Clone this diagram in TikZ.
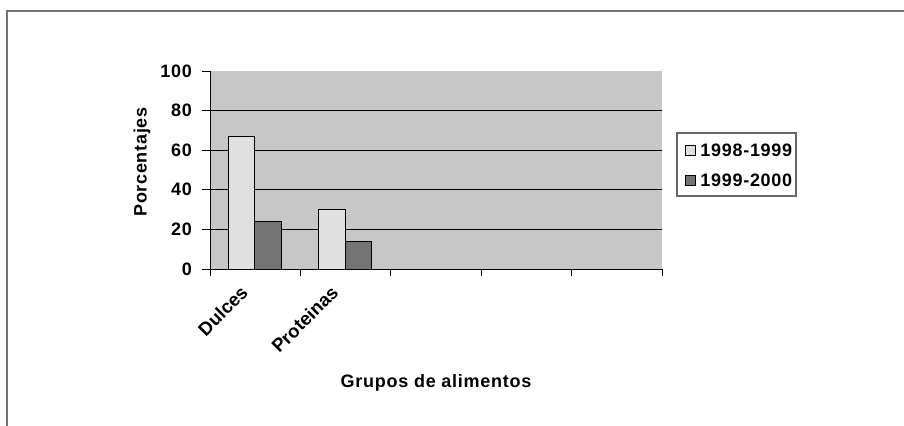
\documentclass[tikz,border=0pt]{standalone}
\usepackage{fontspec}
\setmainfont{Liberation Sans}[LetterSpace=4]
\newfontfamily\rotfont{Liberation Sans}
\begin{document}
\begin{tikzpicture}[x=0.5pt,y=0.5pt,font=\bfseries\fontsize{9}{11}\selectfont]
      \useasboundingbox (0,0) rectangle (904,426);
      \draw[black!55,line width=1pt] (6.5,0) -- (6.5,415) -- (904,415);

      \coordinate (origen) at (210,157);
      \fill[black!22] (origen) rectangle (662,355);

      %%%%%%%%%%%%%%%%%%%%%%%%%%%%%%%%%%%%%%%%%%%%%%%%%%%%%%%%%%%%%%%%%%%%%%%%%%%
      %%%%  Rejilla y eje Y
      \foreach \v in {20,40,60,80}
       {\draw[line width=0.6pt] (210,{157+1.98*\v}) -- (662,{157+1.98*\v});};

      \foreach \v in {0,20,40,60,80,100}
       {\draw (202,{157+1.98*\v}) -- (210,{157+1.98*\v});
        \node[anchor=east] (y\v) at (199,{157+1.98*\v}) {\v};};

      %%%%%%%%%%%%%%%%%%%%%%%%%%%%%%%%%%%%%%%%%%%%%%%%%%%%%%%%%%%%%%%%%%%%%%%%%%%
      %%%%  Barras
      \foreach \i/\a/\b/\nombre in {0/67/24/Dulces,1/30/14/Proteinas}
       {\pgfmathsetmacro\xc{210 + 90.4*\i}
        \draw[fill=black!12] ({\xc+18},157) rectangle ({\xc+44.5},{157+1.98*\a});
        \draw[fill=black!55] ({\xc+44.5},157) rectangle ({\xc+71},{157+1.98*\b});
        \node[rotate=45,anchor=base east,font=\rotfont\bfseries\fontsize{9.3}{11}\selectfont]
          (cat\i) at ({\xc+44},137) {\nombre};};

      \foreach \i in {0,...,5}
       {\draw ({210+90.4*\i},157) -- ({210+90.4*\i},150);};
      \draw (210,355) -- (origen) -- (662,157);

      %%%%%%%%%%%%%%%%%%%%%%%%%%%%%%%%%%%%%%%%%%%%%%%%%%%%%%%%%%%%%%%%%%%%%%%%%%%
      %%%%  Leyenda
      \draw[black!60,line width=0.8pt] (677,230) rectangle (796,293);
      \draw[fill=black!12] (685,271) rectangle (695,281);
      \node[anchor=west,inner sep=1pt] (ley1) at (698,276) {1998-1999};
      \draw[fill=black!55] (685,241) rectangle (695,251);
      \node[anchor=west,inner sep=1pt] (ley2) at (698,246) {1999-2000};

      \node[rotate=90] (ytitulo) at (142,264) {Porcentajes};
      \node (xtitulo) at (436,43) {Grupos de alimentos};
    \end{tikzpicture}
\end{document}
